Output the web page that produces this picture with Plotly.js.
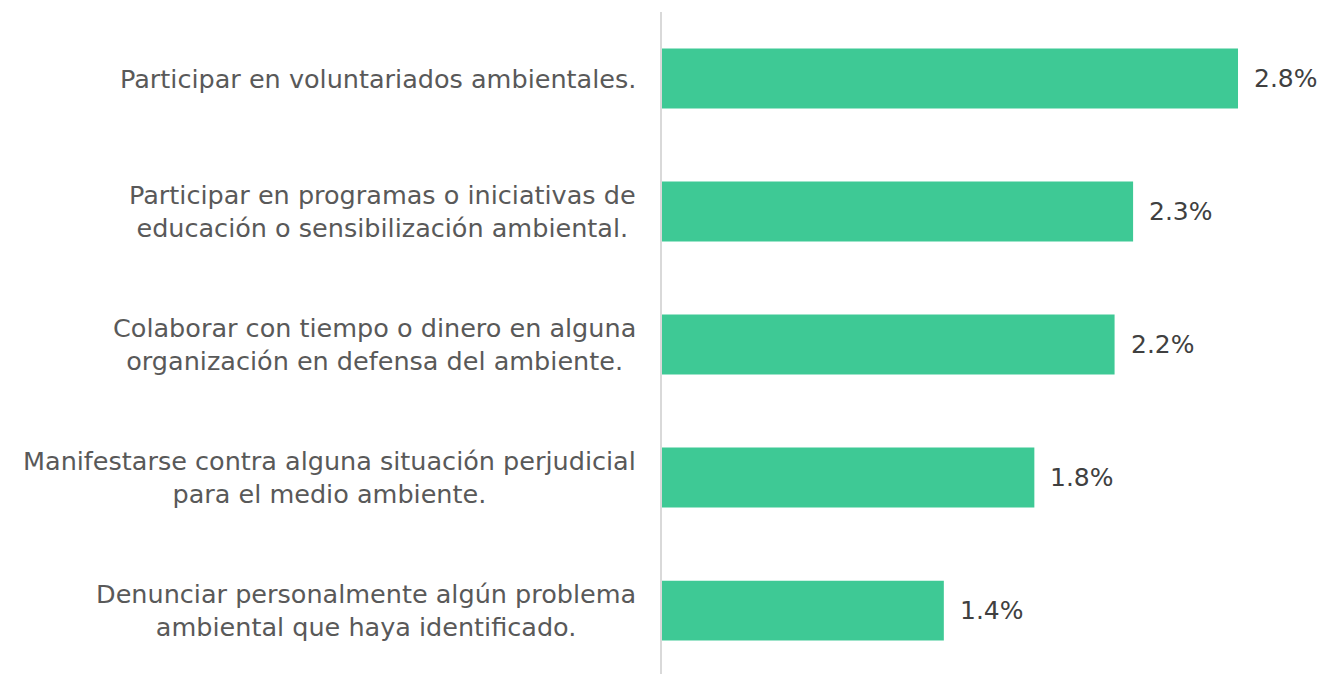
<!DOCTYPE html>
<html>
<head>
<meta charset="utf-8">
<script src="https://cdn.plot.ly/plotly-3.0.1.min.js"></script>
<style>
html,body{margin:0;padding:0;background:#fff;}
#chart{width:1324px;height:674px;}
</style>
</head>
<body>
<div id="chart"></div>
<script>
// Data
var categories = [
  "Participar en voluntariados ambientales.",
  "Participar en programas o iniciativas de<br>educación o sensibilización ambiental.",
  "Colaborar con tiempo o dinero en alguna<br>organización en defensa del ambiente.",
  "Manifestarse contra alguna situación perjudicial<br>para el medio ambiente.",
  "Denunciar personalmente algún problema<br>ambiental que haya identificado."
];
var values = [2.80, 2.29, 2.20, 1.81, 1.37];
var valueLabels = ["2.8%", "2.3%", "2.2%", "1.8%", "1.4%"];

var FONT = "DejaVu Sans, sans-serif";

var trace = {
  type: "bar",
  orientation: "h",
  x: values,
  y: categories,
  marker: {color: "#3EC995"},
  hoverinfo: "none"
};

var annotations = [];
categories.forEach(function(c, i){
  annotations.push({
    xref: "paper", yref: "y", x: 0, y: c,
    xanchor: "right", yanchor: "middle", xshift: -24,
    text: c, showarrow: false, align: "center",
    font: {family: FONT, size: 25.5, color: "#595959"}
  });
  annotations.push({
    xref: "x", yref: "y", x: values[i], y: c,
    xanchor: "left", yanchor: "middle", xshift: 14,
    text: valueLabels[i], showarrow: false,
    font: {family: FONT, size: 25, color: "#404040"}
  });
});

var layout = {
  width: 1324, height: 674,
  margin: {l: 662, r: 0, t: 12, b: 0, pad: 0},
  paper_bgcolor: "#ffffff",
  plot_bgcolor: "#ffffff",
  showlegend: false,
  bargap: 0.55,
  xaxis: {
    range: [0, 3.218],
    showgrid: false, zeroline: false, showticklabels: false,
    showline: false, ticks: ""
  },
  yaxis: {
    type: "category",
    range: [4.477, -0.5],
    showgrid: false, zeroline: false, showticklabels: false,
    showline: true, linecolor: "#d9d9d9", linewidth: 2, ticks: ""
  },
  annotations: annotations
};

Plotly.newPlot("chart", [trace], layout, {displayModeBar: false, staticPlot: true});
</script>
</body>
</html>
